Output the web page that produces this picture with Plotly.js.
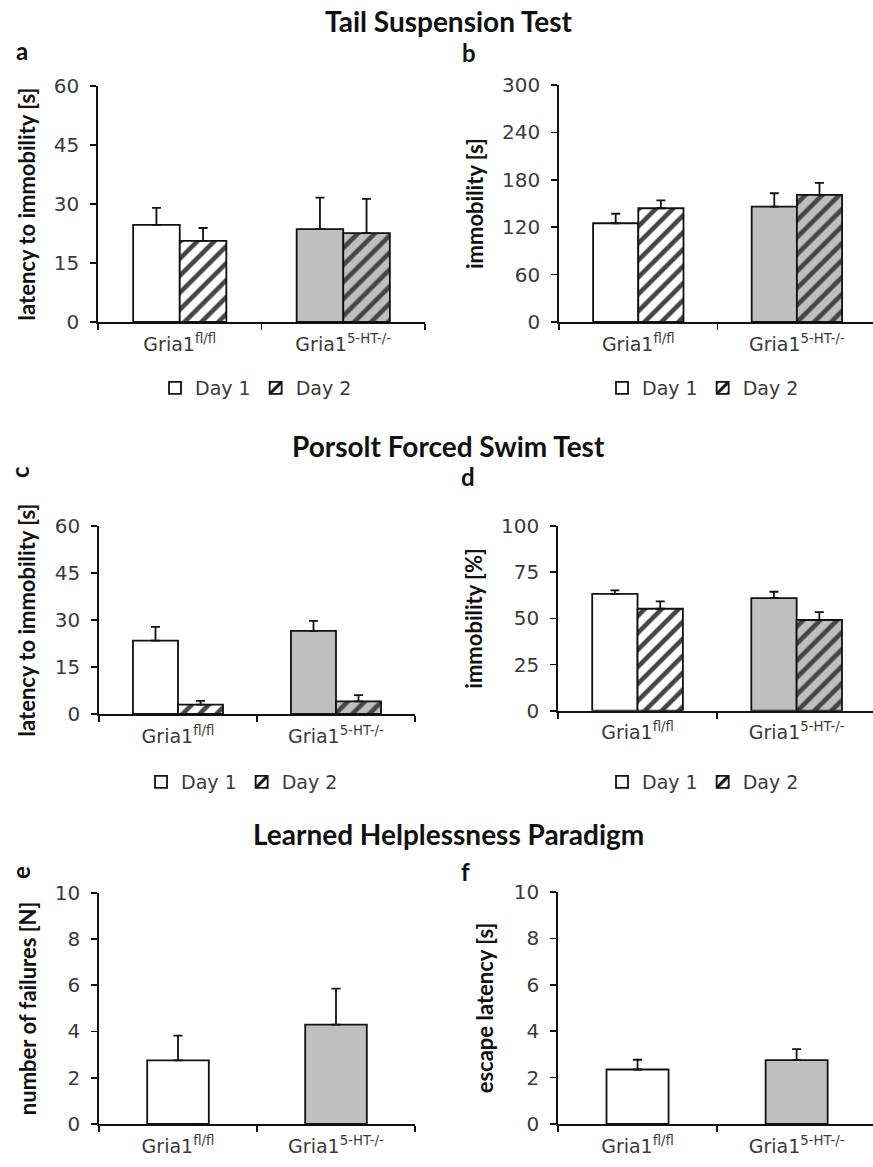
<!DOCTYPE html>
<html>
<head>
<meta charset="utf-8">
<script src="https://cdn.plot.ly/plotly-3.0.1.min.js"></script>
<style>html,body{margin:0;padding:0;background:#fff;}#chart{width:873px;height:1167px;}</style>
</head>
<body>
<div id="chart"></div>
<script>
// ---- data ----
var categories = ['Gria1<sup>fl/fl</sup>', 'Gria1<sup>5-HT-/-</sup>'];
var groupColors = ['#ffffff', '#bfbfbf'];
var seriesNames = ['Day 1', 'Day 2'];

// a: Tail suspension, latency to immobility [s]
var aDay1 = [24.7, 23.6], aDay1Err = [4.3, 8.0];
var aDay2 = [20.6, 22.6], aDay2Err = [3.3, 8.7];
// b: Tail suspension, immobility [s]
var bDay1 = [125, 146], bDay1Err = [12, 17];
var bDay2 = [144, 161], bDay2Err = [10, 15];
// c: Forced swim, latency to immobility [s]
var cDay1 = [23.4, 26.5], cDay1Err = [4.4, 3.2];
var cDay2 = [3.0, 4.0], cDay2Err = [1.2, 2.0];
// d: Forced swim, immobility [%]
var dDay1 = [63.2, 61.0], dDay1Err = [2.0, 3.4];
var dDay2 = [55.2, 49.1], dDay2Err = [4.0, 4.3];
// e: Learned helplessness, number of failures [N]
var eVals = [2.75, 4.3], eErr = [1.07, 1.55];
// f: Learned helplessness, escape latency [s]
var fVals = [2.35, 2.75], fErr = [0.42, 0.48];

var aTicks = [0, 15, 30, 45, 60];
var bTicks = [0, 60, 120, 180, 240, 300];
var cTicks = [0, 15, 30, 45, 60];
var dTicks = [0, 25, 50, 75, 100];
var eTicks = [0, 2, 4, 6, 8, 10];
var fTicks = [0, 2, 4, 6, 8, 10];

// ---- helpers ----
var W = 873, H = 1167;
function px(x) { return x / W; }
function py(y) { return 1 - y / H; }
var yTickFont = {family: 'DejaVu Sans, sans-serif', size: 20, color: '#3a3a3a'};
var xTickFont = {family: 'DejaVu Sans, sans-serif', size: 19, color: '#3a3a3a'};
var legFont = {family: 'DejaVu Sans, sans-serif', size: 19, color: '#3a3a3a'};
var titleFont = {family: 'Lato, sans-serif', size: 22, color: '#111', weight: 'bold'};

function errBar(arr, w) {
  return {type: 'data', symmetric: false, array: arr, arrayminus: arr.map(function(){return 0;}),
          color: '#111', thickness: 1.8, width: w};
}
function dayTrace(vals, err, day, xa, ya, legendId, showLeg) {
  var t = {
    type: 'bar', x: categories, y: vals, name: seriesNames[day],
    xaxis: xa, yaxis: ya, legend: legendId, showlegend: showLeg,
    error_y: errBar(err, 4.5),
    marker: {color: groupColors, line: {color: '#111', width: 1.8}},
    hoverinfo: 'y'
  };
  if (day === 1) {
    t.marker.pattern = {shape: '/', fgcolor: ['#111', '#111'], fgopacity: 1,
                        size: 12, solidity: 0.38, fillmode: 'overlay'};
  }
  return t;
}
function singleTrace(vals, err, xa, ya) {
  return {
    type: 'bar', x: categories, y: vals, name: 'mean', width: 0.39,
    xaxis: xa, yaxis: ya, showlegend: false,
    error_y: errBar(err, 4.5),
    marker: {color: groupColors, line: {color: '#111', width: 1.8}},
    hoverinfo: 'y'
  };
}

var data = [
  dayTrace(aDay1, aDay1Err, 0, 'x', 'y', 'legend', true),
  dayTrace(aDay2, aDay2Err, 1, 'x', 'y', 'legend', true),
  dayTrace(bDay1, bDay1Err, 0, 'x2', 'y2', 'legend2', true),
  dayTrace(bDay2, bDay2Err, 1, 'x2', 'y2', 'legend2', true),
  dayTrace(cDay1, cDay1Err, 0, 'x3', 'y3', 'legend3', true),
  dayTrace(cDay2, cDay2Err, 1, 'x3', 'y3', 'legend3', true),
  dayTrace(dDay1, dDay1Err, 0, 'x4', 'y4', 'legend4', true),
  dayTrace(dDay2, dDay2Err, 1, 'x4', 'y4', 'legend4', true),
  singleTrace(eVals, eErr, 'x5', 'y5'),
  singleTrace(fVals, fErr, 'x6', 'y6')
];

function xAxis(x0, x1, yAnchor, rangeEnd) {
  return {
    domain: [px(x0), px(x1)], anchor: yAnchor, type: 'category',
    range: [-0.5, rangeEnd], tickson: 'boundaries', ticks: 'outside', ticklen: 6,
    tickwidth: 1.6, tickcolor: '#111', showline: true, linecolor: '#111', linewidth: 1.8,
    showgrid: false, zeroline: false, tickfont: xTickFont, fixedrange: true,
    ticklabelstandoff: 4
  };
}
function yAxis(y0, y1, xAnchor, maxV, ticks, title, standoff) {
  return {
    domain: [py(y1), py(y0)], anchor: xAnchor, range: [0, maxV],
    tickmode: 'array', tickvals: ticks, ticks: 'outside', ticklen: 6, tickwidth: 1.6,
    tickcolor: '#111', showline: true, linecolor: '#111', linewidth: 1.8,
    showgrid: false, zeroline: false, tickfont: yTickFont, fixedrange: true,
    ticklabelstandoff: 7,
    title: {text: title, font: titleFont, standoff: standoff}
  };
}
function legendAt(cx, cy) {
  return {orientation: 'h', x: px(cx), y: py(cy), xanchor: 'center', yanchor: 'middle',
          font: legFont, bgcolor: 'rgba(0,0,0,0)', itemwidth: 30, tracegroupgap: 0,
          traceorder: 'normal', itemclick: false, itemdoubleclick: false};
}
function ann(text, x, y, size, anchor, angle) {
  return {text: text, x: px(x), y: py(y), xref: 'paper', yref: 'paper', showarrow: false,
          xanchor: anchor || 'center', yanchor: 'middle', textangle: angle || 0,
          font: {family: 'Lato, sans-serif', size: size, color: '#111', weight: 'bold'}};
}

var layout = {
  width: W, height: H, margin: {l: 0, r: 0, t: 0, b: 0},
  paper_bgcolor: '#fff', plot_bgcolor: '#fff',
  barmode: 'group', bargap: 0.43, bargroupgap: 0,
  xaxis: xAxis(98, 425, 'y', 1.5),
  yaxis: yAxis(86, 322, 'x', 60, aTicks, 'latency to immobility [s]', 12),
  xaxis2: xAxis(559, 873, 'y2', 1.48),
  yaxis2: yAxis(85, 322, 'x2', 300, bTicks, 'immobility [s]', 12),
  xaxis3: xAxis(99, 415, 'y3', 1.5),
  yaxis3: yAxis(526, 714, 'x3', 60, cTicks, 'latency to immobility [s]', 13),
  xaxis4: xAxis(558, 873, 'y4', 1.48),
  yaxis4: yAxis(526, 710.7, 'x4', 100, dTicks, 'immobility [%]', 12),
  xaxis5: xAxis(99, 415, 'y5', 1.5),
  yaxis5: yAxis(892.7, 1124, 'x5', 10, eTicks, 'number of failures [N]', 12),
  xaxis6: xAxis(558, 873, 'y6', 1.48),
  yaxis6: yAxis(892, 1124, 'x6', 10, fTicks, 'escape latency [s]', 14),
  legend: legendAt(256, 388),
  legend2: legendAt(703, 388),
  legend3: legendAt(242, 782),
  legend4: legendAt(703, 782),
  annotations: [
    ann('Tail Suspension Test', 449, 21, 28),
    ann('Porsolt Forced Swim Test', 449, 446, 28),
    ann('Learned Helplessness Paradigm', 449, 834, 28),
    ann('a', 14, 50, 24, 'left'),
    ann('b', 460, 52, 24, 'left'),
    ann('c', 20, 472, 24, 'center', -90),
    ann('d', 459, 476, 24, 'left'),
    ann('e', 20, 873, 24, 'center', -90),
    ann('f', 459, 871, 24, 'left')
  ]
};

Plotly.newPlot('chart', data, layout, {displayModeBar: false, staticPlot: true});
</script>
</body>
</html>
